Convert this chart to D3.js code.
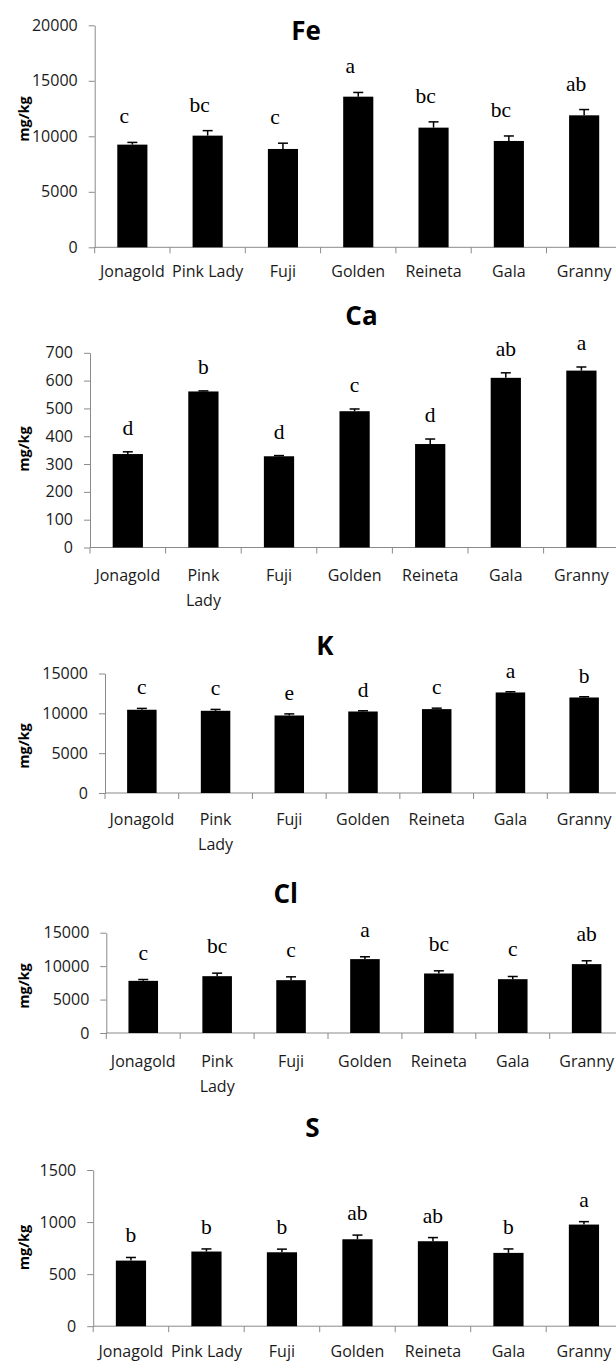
<!DOCTYPE html>
<html>
<head>
<meta charset="utf-8">
<script src="https://cdn.jsdelivr.net/npm/d3@7"></script>
<style>
html,body{margin:0;padding:0;background:#fff;}
svg{display:block;}
</style>
</head>
<body>
<script>
// ---------- data ----------
const categories = ["Jonagold", "Pink Lady", "Fuji", "Golden", "Reineta", "Gala", "Granny"];

const feValues = [9250, 10060, 8860, 13570, 10780, 9580, 11890];
const feErrors = [200, 450, 520, 380, 520, 450, 520];
const feLetters = ["c", "bc", "c", "a", "bc", "bc", "ab"];
const feTicks = [0, 5000, 10000, 15000, 20000];

const caValues = [336, 561, 328, 490, 372, 610, 636];
const caErrors = [8, 2, 2.5, 8, 18, 18, 13];
const caLetters = ["d", "b", "d", "c", "d", "ab", "a"];
const caTicks = [0, 100, 200, 300, 400, 500, 600, 700];

const kValues = [10450, 10320, 9730, 10230, 10530, 12620, 11990];
const kErrors = [170, 170, 200, 90, 120, 90, 90];
const kLetters = ["c", "c", "e", "d", "c", "a", "b"];
const kTicks = [0, 5000, 10000, 15000];

const clValues = [7800, 8500, 7900, 11050, 8900, 8050, 10300];
const clErrors = [200, 450, 500, 350, 400, 400, 500];
const clLetters = ["c", "bc", "c", "a", "bc", "c", "ab"];
const clTicks = [0, 5000, 10000, 15000];

const sValues = [630, 717, 710, 835, 816, 704, 976];
const sErrors = [30, 25, 30, 40, 35, 38, 28];
const sLetters = ["b", "b", "b", "ab", "ab", "b", "a"];
const sTicks = [0, 500, 1000, 1500];

const yUnit = "mg/kg";

// ---------- layout (positions / styles) ----------
const panels = [
  {title: "Fe", values: feValues, errors: feErrors, letters: feLetters, ticks: feTicks,
   x0: 94.7, x1: 621.8, y0: 247.3, y1: 25.3, tx: 306, ty: 39.5, ly: 119, wrap: false, lab: 29.4, gap: 19, ldx: -8},
  {title: "Ca", values: caValues, errors: caErrors, letters: caLetters, ticks: caTicks,
   x0: 90, x1: 619.2, y0: 547.5, y1: 352.8, tx: 361.5, ty: 324.5, ly: 449, wrap: true, lab: 33.5, gap: 17, ldx: 0},
  {title: "K", values: kValues, errors: kErrors, letters: kLetters, ticks: kTicks,
   x0: 105, x1: 621, y0: 793, y1: 673.5, tx: 325, ty: 655, ly: 746, wrap: true, lab: 32, gap: 14, ldx: 0},
  {title: "Cl", values: clValues, errors: clErrors, letters: clLetters, ticks: clTicks,
   x0: 106.3, x1: 623.6, y0: 1033, y1: 932.7, tx: 285.7, ty: 902.7, ly: 986, wrap: true, lab: 33.7, gap: 20, ldx: 0},
  {title: "S", values: sValues, errors: sErrors, letters: sLetters, ticks: sTicks,
   x0: 93.2, x1: 621.7, y0: 1326.2, y1: 1170, tx: 312.4, ty: 1136.5, ly: 1247.5, wrap: false, lab: 31, gap: 15, ldx: 0}
];

const W = 616, H = 1361;
const axisColor = "#8a8a8a";
const sansFont = "'Open Sans', 'DejaVu Sans', sans-serif";
const serifFont = "'Liberation Serif', 'Times New Roman', serif";

const svg = d3.select("body").append("svg")
  .attr("width", W).attr("height", H)
  .attr("viewBox", `0 0 ${W} ${H}`);
svg.append("rect").attr("width", W).attr("height", H).attr("fill", "#fff");

panels.forEach(p => {
  const g = svg.append("g");
  const x = d3.scaleBand().domain(categories).range([p.x0, p.x1]).paddingInner(0).paddingOuter(0);
  const y = d3.scaleLinear().domain([0, d3.max(p.ticks)]).range([p.y0, p.y1]);
  const bw = x.bandwidth();
  const barW = bw * 0.4;

  // title
  g.append("text").attr("x", p.tx).attr("y", p.ty)
    .attr("text-anchor", "middle")
    .style("font-family", sansFont).style("font-weight", "bold").style("font-size", "26px")
    .text(p.title);

  // y axis
  const yAxis = d3.axisLeft(y).tickValues(p.ticks).tickSize(6).tickSizeOuter(0).tickPadding(11)
    .tickFormat(d3.format("d"));
  const ya = g.append("g").attr("transform", `translate(${p.x0},0)`).call(yAxis);
  ya.select(".domain").attr("stroke", axisColor).attr("stroke-width", 1);
  ya.selectAll(".tick line").attr("stroke", axisColor);
  ya.selectAll(".tick text")
    .style("font-family", sansFont).style("font-size", "16px").attr("fill", "#1a1a1a");

  // y label
  g.append("text")
    .attr("transform", `translate(23,${p.ly}) rotate(-90)`)
    .attr("text-anchor", "middle").attr("dominant-baseline", "central")
    .style("font-family", sansFont).style("font-weight", "bold").style("font-size", "14.5px")
    .text(yUnit);

  // x axis line + boundary ticks
  g.append("line").attr("x1", p.x0).attr("x2", p.x1).attr("y1", p.y0).attr("y2", p.y0)
    .attr("stroke", axisColor).attr("stroke-width", 1);
  g.selectAll(".xt").data(categories).enter().append("line")
    .attr("x1", d => x(d)).attr("x2", d => x(d))
    .attr("y1", p.y0).attr("y2", p.y0 + 6)
    .attr("stroke", axisColor).attr("stroke-width", 1);

  // category labels
  categories.forEach(c => {
    const cx = x(c) + bw / 2;
    const lines = (p.wrap && c.indexOf(" ") > 0) ? c.split(" ") : [c];
    lines.forEach((t, i) => {
      g.append("text").attr("x", cx).attr("y", p.y0 + p.lab + i * 25)
        .attr("text-anchor", "middle")
        .style("font-family", sansFont).style("font-size", "16px").attr("fill", "#1a1a1a")
        .text(t);
    });
  });

  const rows = categories.map((c, i) => ({c, v: p.values[i], e: p.errors[i], l: p.letters[i]}));

  // bars
  g.selectAll(".bar").data(rows).enter().append("rect")
    .attr("x", d => x(d.c) + (bw - barW) / 2)
    .attr("width", barW)
    .attr("y", d => y(d.v))
    .attr("height", d => y(0) - y(d.v))
    .attr("fill", "#000");

  // error bars (upper)
  g.selectAll(".err").data(rows).enter().append("line")
    .attr("x1", d => x(d.c) + bw / 2).attr("x2", d => x(d.c) + bw / 2)
    .attr("y1", d => y(d.v)).attr("y2", d => y(d.v + d.e))
    .attr("stroke", "#000").attr("stroke-width", 1.5);
  g.selectAll(".cap").data(rows).enter().append("line")
    .attr("x1", d => x(d.c) + bw / 2 - 5).attr("x2", d => x(d.c) + bw / 2 + 5)
    .attr("y1", d => y(d.v + d.e)).attr("y2", d => y(d.v + d.e))
    .attr("stroke", "#000").attr("stroke-width", 1.5);

  // significance letters
  g.selectAll(".let").data(rows).enter().append("text")
    .attr("x", d => x(d.c) + bw / 2 + p.ldx)
    .attr("y", d => y(d.v + d.e) - p.gap)
    .attr("text-anchor", "middle")
    .style("font-family", serifFont).style("font-size", "21.5px").attr("fill", "#000")
    .text(d => d.l);
});
</script>
</body>
</html>
